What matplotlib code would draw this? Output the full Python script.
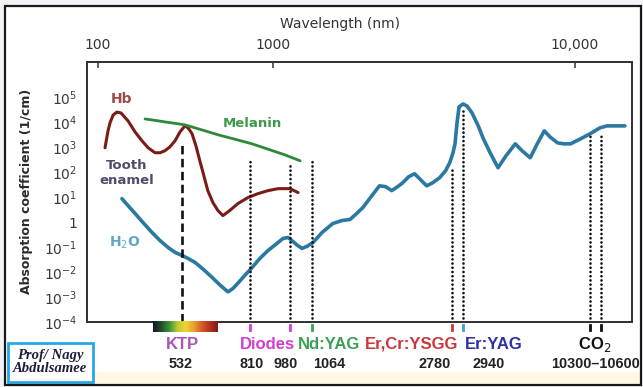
"""
Laser wavelengths vs. absorption spectra of tissue chromophores (Hb, melanin, water).
Re-drawn schematic: the wavelength axis of the original is a hand-made, piecewise log axis.
"""

import numpy as np
import matplotlib
matplotlib.use("Agg")
import matplotlib.pyplot as plt
from matplotlib.colors import LinearSegmentedColormap
from matplotlib.patches import Rectangle
from matplotlib.ticker import NullLocator

# ── Data (wavelength in nm, absorption coefficient in 1/cm) ──
HB_WL = [115, 122, 127, 135, 146, 158, 182, 209, 240, 271, 311, 344, 379, 419, 463,
         511, 539, 545, 555, 566, 580, 594, 609, 624, 644, 664, 685, 715, 752, 800,
         841, 883, 926, 980, 1010]
HB_ABS = [930, 4400, 9200, 19000, 25000, 23000, 11000, 4000, 1770, 930, 590, 590, 710,
          1020, 1770, 4000, 6400, 7000, 5300, 3400, 1100, 280, 71, 18, 6.0, 2.9, 1.8,
          2.9, 5.5, 9.5, 13.6, 18, 21.6, 21.6, 15]

MEL_WL = [255, 379, 542, 664, 818, 955, 1018]
MEL_ABS = [13300, 10100, 7700, 3100, 1340, 490, 280]

H2O_WL = [161, 182, 209, 245, 293, 344, 403, 463, 532, 552, 577, 606, 640, 673, 707,
          729, 752, 785, 818, 849, 883, 917, 948, 971, 987, 1006, 1025, 1044, 1071,
          1140, 1227, 1309, 1381, 1446, 1509, 1605, 1690, 1763, 1838, 1916, 1982, 2066,
          2151, 2242, 2336, 2435, 2554, 2661, 2737, 2794, 2823, 2852, 2881, 2940, 3058,
          3214, 3418, 3580, 3843, 4155, 4496, 4928, 5270, 5709, 6118, 6562, 6935, 7467,
          7932, 8496, 9381, 10300, 10570, 11250, 12170, 13420]
H2O_ABS = [8.6, 4.5, 2.2, 0.95, 0.38, 0.18, 0.096, 0.061, 0.046, 0.035, 0.024, 0.013,
           0.0062, 0.003, 0.0016, 0.0022, 0.0036, 0.0074, 0.015, 0.035, 0.073, 0.13,
           0.22, 0.24, 0.18, 0.12, 0.088, 0.106, 0.15, 0.38, 0.87, 1.15, 1.26, 2.2, 3.8,
           11.4, 28, 26, 18, 26, 37, 65, 85, 49, 28, 37, 59, 113, 235, 587, 1340, 9200,
           40000, 52600, 43800, 23000, 7000, 2330, 587, 148, 446, 1340, 706, 372, 1340,
           4420, 2550, 1470, 1340, 1340, 2120, 3360, 5820, 7000, 7000, 7000]

# laser lines: wavelength and the absorption where each marker line starts
LASER_WL = [532, 810, 980, 1064, 2780, 2940, 10300, 10600]
LASER_TOP = [1800, 370, 235, 370, 148, 28000, 2800, 3700]
LASER_TICK_COLORS = [None, "#D23FCF", "#D23FCF", "#3D9F55", "#C8383C", "#3AA0C8", "#111111", "#111111"]

LASER_NAMES = ["KTP", "Diodes", "Nd:YAG", "Er,Cr:YSGG", "Er:YAG", "CO$_2$"]
LASER_NAME_COLORS = ["#A657B3", "#D23FCF", "#3D9F55", "#C8383C", "#2F2FA6", "#111111"]
LASER_NUMBERS = ["532", "810", "980", "1064", "2780", "2940", "10300\u201310600"]

Y_TICKS = [1e-4, 1e-3, 1e-2, 1e-1, 1, 1e1, 1e2, 1e3, 1e4, 1e5]
Y_TICK_LABELS = [r"$\mathregular{10^{-4}}$", r"$\mathregular{10^{-3}}$", r"$\mathregular{10^{-2}}$",
                 r"$\mathregular{10^{-1}}$", "1", r"$\mathregular{10^{1}}$", r"$\mathregular{10^{2}}$",
                 r"$\mathregular{10^{3}}$", r"$\mathregular{10^{4}}$", r"$\mathregular{10^{5}}$"]
TOP_TICKS = [100, 1000, 10000]
TOP_TICK_LABELS = ["100", "1000", "10,000"]

# ── Layout (pixels of a 643x387 canvas) ──
W, H = 643, 387
AX_L, AX_R, AX_T, AX_B = 87, 632, 62, 322

# the schematic's wavelength axis: anchor wavelength -> pixel column
AXIS_WL = [50, 80, 100, 532, 810, 980, 1064, 2780, 2940, 10300, 10600, 14400, 20000]
AXIS_PX = [64, 87, 98, 182, 250, 290, 312, 452, 463, 590, 601, 632, 665]
# the printed top axis does not agree with the laser lines, so it gets its own mapping
TOP_WL = [30, 100, 1000, 10000, 30000]
TOP_PX = [6, 98, 273, 575, 719]


def piecewise_log(wl, px):
    lw = np.log10(np.asarray(wl, float))
    px = np.asarray(px, float)

    def fwd(x):
        x = np.asarray(x, float)
        return np.interp(np.log10(np.clip(x, 1e-6, None)), lw, px)

    def inv(p):
        return 10 ** np.interp(np.asarray(p, float), px, lw)

    return fwd, inv


def fig_box(x0, y0, x1, y1):
    """pixel box (top-left origin) -> figure-fraction [l, b, w, h]"""
    return [x0 / W, 1 - y1 / H, (x1 - x0) / W, (y1 - y0) / H]


plt.rcParams.update({
    "font.family": ["DejaVu Sans"],
    "axes.edgecolor": "#333333",
    "axes.linewidth": 1.3,
})

fig = plt.figure(figsize=(W / 100, H / 100), dpi=100, facecolor="#F3F2F6")

# page background, cream footer strip and frame
fig.add_artist(Rectangle((5 / W, 2 / H), 636 / W, 379 / H, transform=fig.transFigure,
                         facecolor="white", edgecolor="none", zorder=-2))
fig.add_artist(Rectangle((6 / W, 3 / H), 634 / W, 12 / H, transform=fig.transFigure,
                         facecolor="#FFF8E4", edgecolor="none", zorder=-1))
fig.add_artist(Rectangle((5 / W, 2 / H), 636 / W, 379 / H, transform=fig.transFigure,
                         facecolor="none", edgecolor="#1A1A1A", linewidth=1.6, zorder=6))

ax = fig.add_axes(fig_box(AX_L, AX_T, AX_R, AX_B))
fwd, inv = piecewise_log(AXIS_WL, AXIS_PX)
ax.set_xscale("function", functions=(fwd, inv))
ax.set_xlim(inv(AX_L), inv(AX_R))
ax.set_yscale("log")
ax.set_ylim(1e-4, 10 ** 6.4)

# ── Spectra ──
ax.plot(H2O_WL, H2O_ABS, color="#2B78A2", lw=2.6, solid_joinstyle="round", solid_capstyle="round", zorder=3)
ax.plot(HB_WL, HB_ABS, color="#7B1D17", lw=2.2, solid_joinstyle="round", solid_capstyle="round", zorder=3)
ax.plot(MEL_WL, MEL_ABS, color="#2E8A3B", lw=2.0, solid_capstyle="round", zorder=3)

# ── Laser marker lines ──
for wl, top in zip(LASER_WL, LASER_TOP):
    if wl == 532:
        ax.plot([wl, wl], [1e-4, top], color="#111111", lw=1.9, linestyle=(0, (3.2, 1.7)),
                dash_capstyle="butt", zorder=4)
    else:
        ax.plot([wl, wl], [1.5e-4, top], color="#111111", lw=1.9, linestyle=(0, (0.05, 1.55)),
                dash_capstyle="round", zorder=4)

xt = ax.get_xaxis_transform()
for wl, c in zip(LASER_WL, LASER_TICK_COLORS):
    if c:
        ax.plot([wl, wl], [-0.012, -0.031], transform=xt, color=c, lw=2.0, clip_on=False)

name_x = [532, 880, 1196, 2107, 3998, 10440]
for x, s, c in zip(name_x, LASER_NAMES, LASER_NAME_COLORS):
    ax.text(x, -0.085, s, transform=xt, ha="center", va="center", color=c, fontsize=12,
            fontweight="bold", family=["Liberation Sans", "DejaVu Sans"])
num_x = [520, 818, 958, 1200, 2476, 3771, 10460]
for x, s in zip(num_x, LASER_NUMBERS):
    ax.text(x, -0.162, s, transform=xt, ha="center", va="center", color="#222222", fontsize=10.4,
            fontweight="bold", family=["Liberation Sans", "DejaVu Sans"])

# ── In-plot labels ──
ax.text(161, 8.3e4, "Hb", color="#A24848", fontsize=10, fontweight="bold", ha="center", va="center")
ax.text(818, 8.4e3, "Melanin", color="#3E9A4B", fontsize=9.5, fontweight="bold", ha="center", va="center")
ax.text(178, 93, "Tooth\nenamel", color="#4D4D6C", fontsize=9.5, fontweight="bold", ha="center",
        va="center", linespacing=1.25)
ax.text(171, 0.15, "H$_2$O", color="#62A7CB", fontsize=10, fontweight="bold", ha="center", va="center")

# ── Axes styling ──
ax.tick_params(axis="x", which="both", bottom=False, top=False, labelbottom=False)
ax.set_yticks(Y_TICKS)
ax.set_yticklabels(Y_TICK_LABELS)
ax.yaxis.set_minor_locator(NullLocator())
ax.tick_params(axis="y", length=0, pad=7, labelsize=10, labelcolor="#3A3A3A")
ax.set_ylabel("Absorption coefficient (1/cm)", fontsize=9, fontweight="bold", color="#2A2A2A")
ax.yaxis.set_label_coords(-0.099, 0.504)

ax_top = ax.twiny()
tfwd, tinv = piecewise_log(TOP_WL, TOP_PX)
ax_top.set_xscale("function", functions=(tfwd, tinv))
ax_top.set_xlim(tinv(AX_L), tinv(AX_R))
ax_top.set_xticks(TOP_TICKS)
ax_top.set_xticklabels(TOP_TICK_LABELS)
ax_top.xaxis.set_minor_locator(NullLocator())
ax_top.tick_params(axis="x", direction="in", length=4, width=1.1, pad=7, labelsize=10,
                   labelcolor="#333333", color="#333333")
ax_top.set_xlabel("Wavelength (nm)", fontsize=10, color="#333333")
ax_top.xaxis.set_label_coords((340 - AX_L) / (AX_R - AX_L), (AX_B - 28) / (AX_B - AX_T))
ax.tick_params(axis="x", which="both", bottom=False, top=False, labelbottom=False, labeltop=False)

# ── KTP spectrum bar under the axis ──
spec = LinearSegmentedColormap.from_list(
    "ktp", ["#1A1226", "#1F4F28", "#3C9436", "#B9C63A", "#F0D52E", "#E9A32E", "#D45C28", "#B4301F", "#7E1B18"])
cax = fig.add_axes(fig_box(153, 321, 218, 332))
cax.imshow(np.linspace(0, 1, 256)[None, :], aspect="auto", cmap=spec)
cax.axis("off")

# ── Watermark box ──
fig.add_artist(Rectangle((8 / W, 1 - 382 / H), 85 / W, 39 / H, transform=fig.transFigure,
                         facecolor="white", edgecolor="#2AA6E6", linewidth=2, zorder=3))
fig.text(50 / W, 1 - 362 / H, "Prof/ Nagy\nAbdulsamee", ha="center", va="center", fontsize=10.5,
         fontweight="bold", fontstyle="italic", family=["Liberation Serif", "DejaVu Serif"],
         color="#1C1C3C", linespacing=1.05, zorder=4)

fig.savefig("out.png", dpi=100, facecolor=fig.get_facecolor())
